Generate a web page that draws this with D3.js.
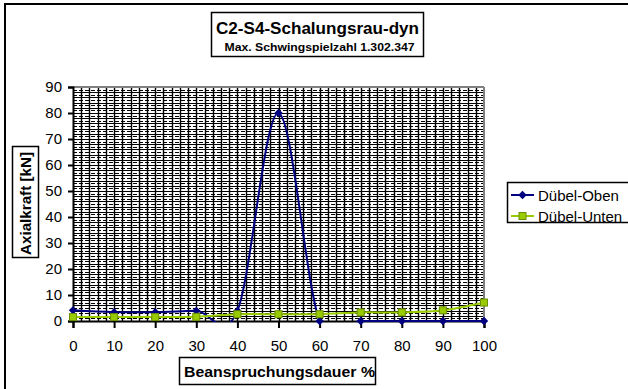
<!DOCTYPE html>
<html><head><meta charset="utf-8">
<script src="https://cdn.jsdelivr.net/npm/d3@7"></script>
<style>html,body{margin:0;padding:0;background:#fff;overflow:hidden}svg{display:block}text{font-family:"Liberation Sans",Arial,sans-serif}</style>
</head><body>
<svg id="c" width="628" height="389"></svg>
<script>
const xValues = [0,10,20,30,40,50,60,70,80,90,100];
const duebelOben = [4.1,3.4,3.4,3.9,3.9,80,0,0,0,0,0];
const duebelUnten = [1.5,1.5,1.5,1.6,2.6,2.6,2.6,3.3,3.3,4.1,7.1];
const xTicks = [0,10,20,30,40,50,60,70,80,90,100];
const yTicks = [0,10,20,30,40,50,60,70,80,90];
const seriesNames = ["Dübel-Oben","Dübel-Unten"];
const titleText = "C2-S4-Schalungsrau-dyn";
const subtitleText = "Max. Schwingspielzahl 1.302.347";
const xTitle = "Beanspruchungsdauer %";
const yTitle = "Axialkraft [kN]";

const svg = d3.select("#c");
const L=73,R=484,T=87,B=321;
const x = d3.scaleLinear().domain([0,100]).range([L,R]);
const y = d3.scaleLinear().domain([0,90]).range([B,T]);

// outer frame
svg.append("rect").attr("x",5).attr("y",4).attr("width",700).attr("height",450)
  .attr("fill","#fff").attr("stroke","#000").attr("stroke-width",2);

// title box
svg.append("rect").attr("x",211.5).attr("y",12.5).attr("width",212).attr("height",44)
  .attr("fill","#fff").attr("stroke","#000").attr("stroke-width",1.5);
svg.append("text").attr("x",317.5).attr("y",34).attr("text-anchor","middle")
  .attr("font-size",17).attr("font-weight","bold").attr("textLength",203).attr("lengthAdjust","spacingAndGlyphs").text(titleText);
svg.append("text").attr("x",319.5).attr("y",51).attr("text-anchor","middle")
  .attr("font-size",11.5).attr("font-weight","bold").attr("textLength",190).attr("lengthAdjust","spacingAndGlyphs").text(subtitleText);

// grid
const g = svg.append("g");
d3.range(0,91,1).forEach(v=>{
  if(v===0||v===90) return;
  g.append("line").attr("x1",L).attr("x2",R).attr("y1",Math.round(y(v))+0.5).attr("y2",Math.round(y(v))+0.5)
   .attr("stroke","#000").attr("stroke-width",1)
   .attr("stroke-dasharray", v%2===0 ? null : "4,2");
});
d3.range(2,100,2).forEach(v=>{
  g.append("line").attr("y1",T).attr("y2",B).attr("x1",Math.round(x(v))+0.5).attr("x2",Math.round(x(v))+0.5)
   .attr("stroke","#000").attr("stroke-width",1.4);
});
// plot border top/right gray
svg.append("line").attr("x1",L).attr("x2",R).attr("y1",T).attr("y2",T).attr("stroke","#808080").attr("stroke-width",2);
svg.append("line").attr("x1",R).attr("x2",R).attr("y1",T).attr("y2",B).attr("stroke","#808080").attr("stroke-width",2);

// axes
const yAxis = d3.axisLeft(y).tickValues(yTicks).tickSize(5).tickPadding(6).tickFormat(d3.format("d"));
const ya = svg.append("g").attr("transform",`translate(${L},0)`).call(yAxis);
const xAxis = d3.axisBottom(x).tickValues(xTicks).tickSize(7).tickPadding(12).tickFormat(d3.format("d"));
const xa = svg.append("g").attr("transform",`translate(0,${B})`).call(xAxis);
[ya,xa].forEach(a=>{
  a.select(".domain").attr("stroke","#000").attr("stroke-width",2);
  a.selectAll(".tick line").attr("stroke","#000").attr("stroke-width",2);
  a.selectAll(".tick text").attr("font-size",15).attr("fill","#000").attr("font-family","Liberation Sans, Arial, sans-serif");
});

// clip
svg.append("clipPath").attr("id","clip").append("rect").attr("x",L).attr("y",T).attr("width",R-L).attr("height",B-T+1);

const line = d3.line().x((d,i)=>x(xValues[i])).y(d=>y(d)).curve(d3.curveCardinal.tension(0));
const cBlue="#000080", cGreen="#99CC00";
svg.append("path").attr("d",line(duebelOben)).attr("fill","none").attr("stroke",cBlue).attr("stroke-width",2).attr("clip-path","url(#clip)");
svg.append("path").attr("d",line(duebelUnten)).attr("fill","none").attr("stroke",cGreen).attr("stroke-width",2).attr("clip-path","url(#clip)");

const diamond = d3.symbol().type(d3.symbolDiamond2).size(45);
svg.append("g").selectAll("path").data(duebelOben).join("path")
  .attr("transform",(d,i)=>`translate(${x(xValues[i])},${y(d)})`).attr("d",diamond).attr("fill",cBlue);
svg.append("g").selectAll("rect").data(duebelUnten).join("rect")
  .attr("x",(d,i)=>x(xValues[i])-3.5).attr("y",d=>y(d)-3.5).attr("width",7).attr("height",7)
  .attr("fill",cGreen).attr("stroke","#6a8f00").attr("stroke-width",1);

// axis titles
svg.append("rect").attr("x",179.5).attr("y",357.5).attr("width",196).attr("height",27).attr("fill","#fff").attr("stroke","#000").attr("stroke-width",1.5);
svg.append("text").attr("x",184).attr("y",377).attr("font-size",14).attr("font-weight","bold").attr("textLength",191).attr("lengthAdjust","spacingAndGlyphs").text(xTitle);
svg.append("rect").attr("x",12.5).attr("y",146.5).attr("width",26).attr("height",111).attr("fill","#fff").attr("stroke","#000").attr("stroke-width",1.5);
svg.append("text").attr("transform","translate(31,203.5) rotate(-90)").attr("text-anchor","middle")
  .attr("font-size",14).attr("font-weight","bold").attr("textLength",103).attr("lengthAdjust","spacingAndGlyphs").text(yTitle);

// legend
const lg = svg.append("g");
lg.append("rect").attr("x",507.5).attr("y",182.5).attr("width",140).attr("height",40).attr("fill","#fff").attr("stroke","#000").attr("stroke-width",1.5);
const legClip = svg.append("clipPath").attr("id","lclip").append("rect").attr("x",508).attr("y",183).attr("width",140).attr("height",39);
const items = [{name:seriesNames[0],c:cBlue,sym:"d",yy:195},{name:seriesNames[1],c:cGreen,sym:"s",yy:216}];
items.forEach(it=>{
  lg.append("line").attr("x1",511).attr("x2",534).attr("y1",it.yy).attr("y2",it.yy).attr("stroke",it.c).attr("stroke-width",2);
  if(it.sym==="d") lg.append("path").attr("transform",`translate(522.5,${it.yy})`).attr("d",diamond).attr("fill",it.c);
  else lg.append("rect").attr("x",519).attr("y",it.yy-3.5).attr("width",7).attr("height",7).attr("fill",it.c).attr("stroke","#6a8f00");
  lg.append("text").attr("x",538).attr("y",it.yy+5.5).attr("font-size",15).attr("clip-path","url(#lclip)").text(it.name);
});
</script>
</body></html>
